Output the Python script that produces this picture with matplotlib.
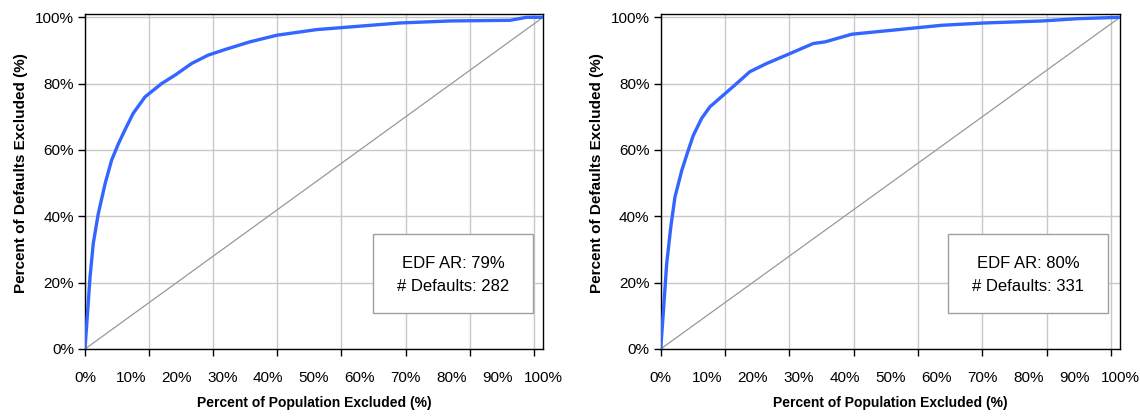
import numpy as np
import matplotlib
matplotlib.use("Agg")
import matplotlib.pyplot as plt
from matplotlib.patches import Rectangle

plt.rcParams["font.family"] = ["Liberation Sans", "DejaVu Sans"]

# power curves (fraction of population, fraction of defaults)
left_x = [0, 0.011, 0.018, 0.029, 0.044, 0.058, 0.073, 0.087, 0.105, 0.131, 0.167,
          0.197, 0.233, 0.269, 0.306, 0.36, 0.419, 0.506, 0.579, 0.688, 0.797,
          0.928, 0.964, 1.0]
left_y = [0, 0.217, 0.318, 0.408, 0.499, 0.569, 0.619, 0.66, 0.71, 0.76, 0.80,
          0.826, 0.861, 0.886, 0.903, 0.926, 0.946, 0.963, 0.971, 0.983, 0.989,
          0.991, 1.0, 1.0]

right_x = [0, 0.006, 0.013, 0.022, 0.031, 0.046, 0.06, 0.071, 0.089, 0.107, 0.136,
           0.165, 0.194, 0.231, 0.282, 0.332, 0.358, 0.416, 0.503, 0.612, 0.706,
           0.83, 0.909, 1.0]
right_y = [0, 0.116, 0.257, 0.368, 0.458, 0.539, 0.599, 0.644, 0.695, 0.73, 0.765,
           0.80, 0.836, 0.861, 0.891, 0.921, 0.926, 0.949, 0.961, 0.976, 0.983,
           0.989, 0.996, 1.0]

diag_x = [0, 1]
diag_y = [0, 1]

x_labels = ["0%", "10%", "20%", "30%", "40%", "50%", "60%", "70%", "80%", "90%", "100%"]
y_labels = ["0%", "20%", "40%", "60%", "80%", "100%"]

panels = [
    (left_x, left_y, "EDF AR: 79%", "# Defaults: 282"),
    (right_x, right_y, "EDF AR: 80%", "# Defaults: 331"),
]

W, H = 1140, 417
fig = plt.figure(figsize=(W / 100, H / 100), dpi=100)

# axes boxes in pixels: left, right, top, bottom
boxes = [(85, 543, 14, 349), (660.7, 1120, 14, 349)]

for (px0, px1, py0, py1), (xs, ys, line1, line2) in zip(boxes, panels):
    ax = fig.add_axes([px0 / W, (H - py1) / H, (px1 - px0) / W, (py1 - py0) / H])
    ax.set_xlim(0, 1)
    ax.set_ylim(0, 1.01)

    ax.plot(diag_x, diag_y, color="#999999", lw=0.9, zorder=2)
    ax.plot(xs, ys, color="#3366FF", lw=2.4, zorder=3, solid_capstyle="round")

    # gridlines / tick marks every 14% (Excel category-style axis), labels every 10%
    ax.xaxis.remove_overlapping_locs = False
    ax.set_xticks(np.arange(0, 0.99, 0.14))
    ax.set_xticklabels([])
    ax.set_xticks(np.linspace(0, 1, len(x_labels)), minor=True)
    ax.set_xticklabels(x_labels, minor=True)
    ax.tick_params(axis="x", which="major", length=5, width=1, direction="out")
    ax.tick_params(axis="x", which="minor", length=0, pad=16, labelsize=11)

    ax.set_yticks(np.linspace(0, 1, len(y_labels)))
    ax.set_yticklabels(y_labels)
    ax.tick_params(axis="y", length=5, width=1, direction="out", pad=3, labelsize=11)

    ax.grid(True, which="major", color="#C8C8C8", lw=1)
    ax.set_axisbelow(True)
    for s in ax.spines.values():
        s.set_color("black")
        s.set_linewidth(1)

    ax.set_xlabel("Percent of Population Excluded (%)", fontsize=10,
                  fontweight="bold", labelpad=8)
    ax.set_ylabel("Percent of Defaults Excluded (%)", fontsize=11, fontweight="bold")
    ax.yaxis.set_label_coords(-0.124, 0.525)

    bx0 = 0.628 if px0 < 100 else 0.626
    bx1 = 0.979 if px0 < 100 else 0.974
    ax.add_patch(Rectangle((bx0, 0.108), bx1 - bx0, 0.239, transform=ax.transData,
                           facecolor="white", edgecolor="#A0A0A0", lw=1, zorder=4))
    cx = (bx0 + bx1) / 2
    ax.text(cx, 0.259, line1, ha="center", va="center", fontsize=12, zorder=5)
    ax.text(cx, 0.187, line2, ha="center", va="center", fontsize=12, zorder=5)

fig.savefig("out.png", dpi=100)
